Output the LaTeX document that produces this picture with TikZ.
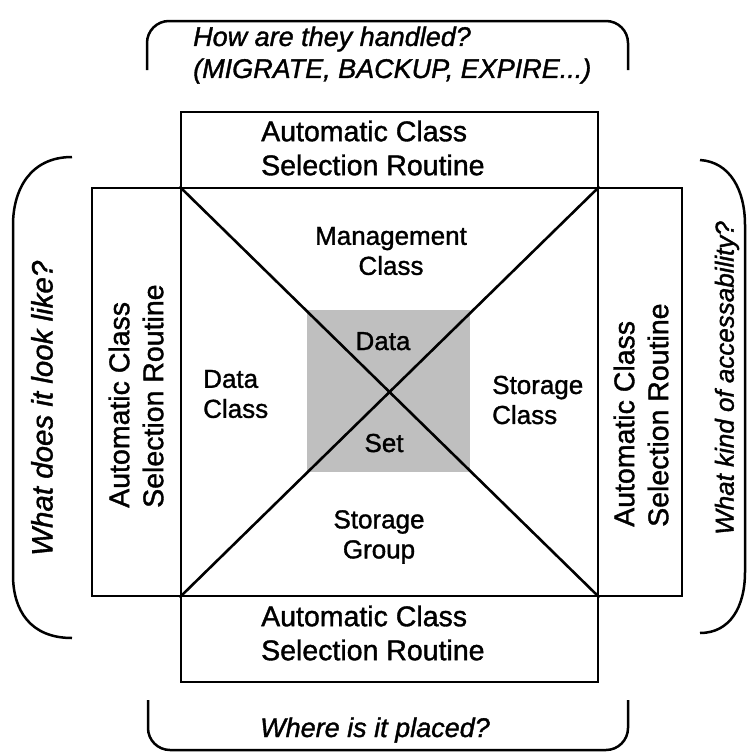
\documentclass[tikz,border=0pt]{standalone}
\usepackage{fontspec}
\setmainfont{Liberation Sans}[RawFeature={embolden=1.3}]
\begin{document}
\begin{tikzpicture}[x=1pt,y=-1pt,
  box/.style={draw,line width=2.8pt},
  diag/.style={line width=2.6pt},
  acs/.style={inner sep=0pt,font=\fontsize{28.5}{34}\selectfont,align=left},
  ital/.style={inner sep=0pt,font=\fontsize{27}{32}\selectfont\itshape,align=left},
  lab/.style={inner sep=0pt,font=\fontsize{26}{30}\selectfont},
  brk/.style={line width=2.5pt}]
\useasboundingbox (0,0) rectangle (747,755);
% shaded data set area
\fill[black!25] (307,310) rectangle (470,472);
% boxes
\node[box,minimum width=417pt,minimum height=408pt,inner sep=0pt] (sq) at (389.5,392) {};
\node[box,minimum width=417pt,minimum height=76pt,inner sep=0pt] (topbox) at (389.5,150) {};
\node[box,minimum width=417pt,minimum height=86pt,inner sep=0pt] (botbox) at (389.5,639) {};
\node[box,minimum width=89pt,minimum height=408pt,inner sep=0pt] (leftbox) at (136.5,392) {};
\node[box,minimum width=84pt,minimum height=408pt,inner sep=0pt] (rightbox) at (640,392) {};
% diagonals
\draw[diag] (sq.north west) -- (sq.south east);
\draw[diag] (sq.north east) -- (sq.south west);
% ACS texts
\node[acs,anchor=west] (acstop) at (261,148) {Automatic Class\\Selection Routine};
\node[acs,anchor=west] (acsbot) at (261,633) {Automatic Class\\Selection Routine};
\node[acs,anchor=west,rotate=90] (acsleft) at (136,508) {Automatic Class\\Selection Routine};
\node[acs,anchor=west,rotate=90] (acsright) at (641,527) {Automatic Class\\Selection Routine};
% inner labels
\node[lab,align=center] (mgmt) at (391,251) {Management\\Class};
\node[lab,align=left,anchor=west] (dcls) at (203,394) {Data\\Class};
\node[lab,align=left,anchor=west] (scls) at (492,400) {Storage\\Class};
\node[lab,align=center] (sgrp) at (379,537) {Storage\\Group};
\node[lab,anchor=base] (dsdata) at (383,350) {Data};
\node[lab,anchor=base] (dsset) at (384,452) {Set};
% questions
\node[ital,anchor=west] (qtop) at (193,55) {How are they handled?\\(MIGRATE, BACKUP, EXPIRE...)};
\node[ital,anchor=base west] (qbot) at (260,737) {Where is it placed?};
\node[ital,anchor=west,rotate=90,font=\fontsize{29.5}{32}\selectfont\itshape] (qleft) at (42,556) {What does it look like?};
\node[ital,anchor=west,rotate=90,font=\fontsize{26}{31}\selectfont\itshape] (qright) at (727,535) {What kind of accessability?};
% brackets
\draw[brk,rounded corners=22pt] (147,70) -- (147,21) -- (628,21) -- (628,70);
\draw[brk,rounded corners=22pt] (148,700) -- (148,750) -- (628,750) -- (628,700);
\draw[brk] (72,157) .. controls (30,157) and (13,190) .. (13,225) -- (13,575) .. controls (13,610) and (30,638) .. (72,638);
\draw[brk] (700,160) .. controls (730,162) and (745,190) .. (745,225) -- (745,572) .. controls (745,607) and (730,633) .. (700,633);
\end{tikzpicture}
\end{document}
